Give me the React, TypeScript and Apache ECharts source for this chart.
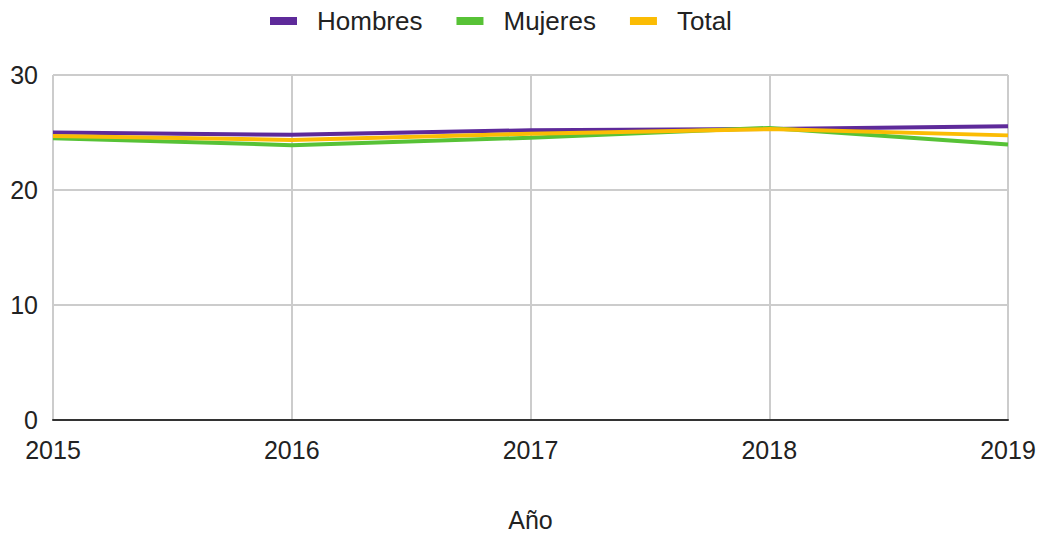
import React, { useEffect, useRef } from "react";
import * as echarts from "echarts";

const years = ["2015", "2016", "2017", "2018", "2019"];
const hombres = [25.0, 24.8, 25.2, 25.3, 25.55];
const mujeres = [24.5, 23.9, 24.55, 25.4, 23.95];
const total = [24.7, 24.35, 24.9, 25.3, 24.75];
const yTicks = { min: 0, max: 30, interval: 10 };

const FONT = "Arial, 'Liberation Sans', sans-serif";

export default function App() {
  const ref = useRef<HTMLDivElement>(null);
  useEffect(() => {
    if (!ref.current) return;
    const chart = echarts.init(ref.current, undefined, { renderer: "svg" });
    const mk = (name: string, data: number[], color: string) => ({
      name,
      type: "line",
      data,
      symbol: "none",
      lineStyle: { width: 4, color },
      itemStyle: { color },
    });
    chart.setOption({
      animation: false,
      textStyle: { fontFamily: FONT },
      legend: {
        top: 8,
        padding: 0,
        left: 270,
        icon: "rect",
        itemWidth: 27,
        itemHeight: 8,
        itemGap: 34,
        textStyle: { fontSize: 26, color: "#222", fontFamily: FONT, padding: [0, 0, 0, 15] },
        data: ["Hombres", "Mujeres", "Total"],
      },
      grid: { left: 53, right: 36, top: 75, bottom: 113, containLabel: false, outerBoundsMode: "none" },
      xAxis: {
        type: "category",
        data: years,
        boundaryGap: false,
        name: "Año",
        nameLocation: "middle",
        nameGap: 87,
        nameTextStyle: { fontSize: 25, color: "#222", fontFamily: FONT },
        axisLine: { show: true, lineStyle: { color: "#333", width: 2 } },
        axisTick: { show: false },
        axisLabel: { fontSize: 25, color: "#222", margin: 17, fontFamily: FONT },
        splitLine: { show: true, lineStyle: { color: "#ccc", width: 2 } },
      },
      yAxis: {
        type: "value",
        min: yTicks.min,
        max: yTicks.max,
        interval: yTicks.interval,
        axisLine: { show: false },
        axisTick: { show: false },
        axisLabel: { fontSize: 25, color: "#222", margin: 15, fontFamily: FONT },
        splitLine: { show: true, lineStyle: { color: "#ccc", width: 2 } },
      },
      series: [
        mk("Hombres", hombres, "#5e2a9a"),
        mk("Mujeres", mujeres, "#57c236"),
        mk("Total", total, "#fbbc04"),
      ],
    });
    return () => chart.dispose();
  }, []);
  return (
    <div
      ref={ref}
      style={{ position: "absolute", left: 0, top: 0, width: 1044, height: 533 }}
    />
  );
}
